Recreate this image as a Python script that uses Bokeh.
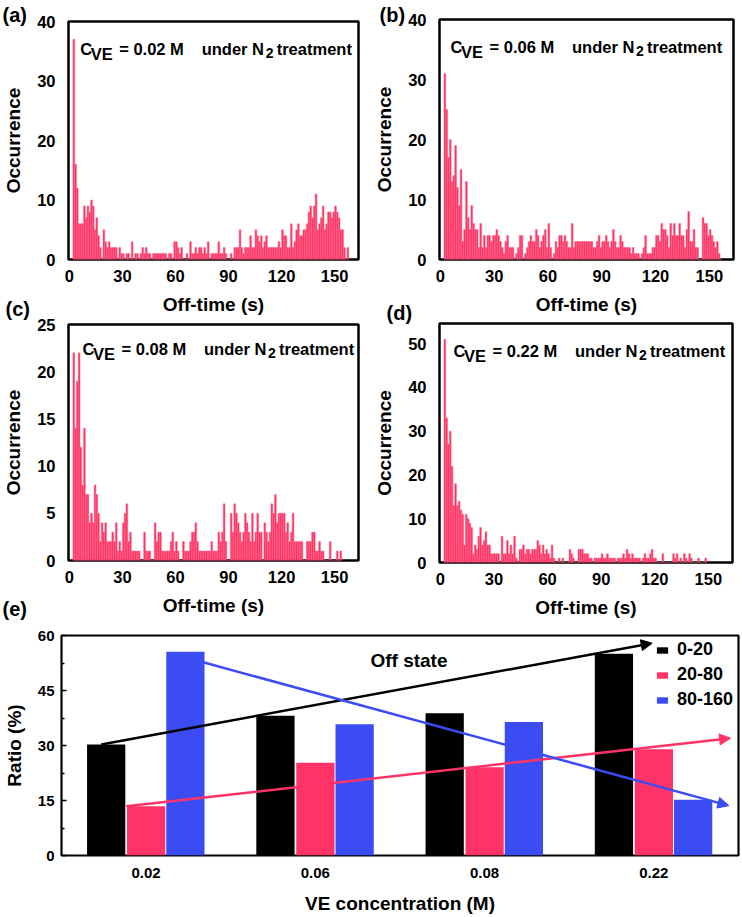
from bokeh.plotting import figure
from bokeh.models import (Range1d, FactorRange, FixedTicker, Label, Arrow, NormalHead,
                          Legend, LegendItem, ColumnDataSource)
from bokeh.layouts import column, row
from bokeh.transform import dodge
from bokeh.embed import file_html
from bokeh.resources import INLINE

# ---------------------------------------------------------------- data
BIN = 1  # histogram bin width (s)

# (a) C_VE = 0.02 M, bins start at 2 s
start_a = 2
counts_a = [37, 16, 12, 6, 6, 6, 9, 7, 9, 8,
            10, 9, 5, 7, 4, 2, 0, 5, 3, 2,
            3, 2, 2, 2, 2, 0, 2, 1, 1, 0,
            1, 1, 0, 3, 0, 1, 1, 0, 1, 2,
            1, 2, 1, 1, 0, 1, 1, 1, 1, 1,
            1, 1, 1, 0, 1, 1, 0, 3, 3, 2,
            1, 2, 0, 0, 1, 0, 3, 1, 1, 2,
            1, 2, 2, 1, 2, 1, 3, 0, 1, 1,
            1, 1, 3, 1, 1, 2, 1, 0, 0, 1,
            0, 2, 2, 2, 5, 2, 1, 2, 2, 2,
            4, 2, 2, 5, 4, 3, 4, 2, 3, 4,
            2, 2, 2, 2,
            2, 2, 3, 2, 5, 4, 4, 2, 2, 6,
            2, 3, 5, 6, 4, 4, 5, 5, 6, 8,
            9, 7, 9, 11, 5, 6, 7, 9, 5, 6,
            8, 8, 7, 8, 9, 8, 7, 5, 5, 2,
            0, 2]

# (b) C_VE = 0.06 M
start_b = 2
counts_b = [31, 25, 17, 20, 13, 14, 19, 12, 9, 15,
            3, 5, 13, 7, 5, 9, 6, 5, 5, 2,
            6, 2, 4, 2, 4, 4, 3, 4, 4, 5,
            4, 3, 2, 1, 3, 4, 2, 2, 2, 0,
            1, 2, 4, 4, 0, 1, 2, 3, 4, 3,
            3, 5, 4, 2, 3, 4, 5, 2, 6, 2,
            0, 1, 3, 2, 4, 4, 3, 4, 3, 2,
            2, 6, 2, 3, 3, 3, 3, 3, 3, 3,
            3, 3, 3, 2, 2, 3, 4, 2, 3, 3,
            4, 3, 2, 3, 5, 3, 2, 2, 4, 3,
            2, 2, 2, 2, 1, 2, 1, 1, 1, 0,
            1, 2, 4, 1, 1, 1, 2, 2, 4, 4,
            3, 6, 5, 5, 4, 2, 6, 4, 6, 4,
            4, 6, 4, 4, 2, 5, 8, 3, 3, 5,
            2, 2, 0, 0, 7, 6, 6, 4, 5, 4,
            3, 2, 3, 1, 0]

# (c) C_VE = 0.08 M
start_c = 2
counts_c = [22, 14, 19, 22, 12, 8, 14, 7, 7, 4,
            5, 4, 8, 7, 5, 2, 4, 3, 4, 2,
            2, 2, 3, 2, 4, 1, 2, 1, 4, 5,
            6, 2, 3, 1, 1, 1, 1, 1, 0, 0,
            3, 1, 1, 1, 0, 0, 4, 2, 3, 3,
            1, 1, 1, 1, 1, 2, 3, 1, 2, 1,
            0, 0, 2, 1, 1, 1, 2, 3, 3, 4,
            2, 1, 1, 1, 1, 1, 1, 1, 2, 1,
            1, 1, 3, 2, 3, 6, 2, 0, 0, 5,
            3, 6, 5, 4, 3, 2, 3, 5, 4, 3,
            2, 5, 2, 3, 5, 3, 3, 0, 4, 3,
            2, 3, 6, 5, 7, 4, 5, 5, 5, 5,
            3, 4, 2, 3, 5, 2, 2, 2, 2, 2,
            0, 0, 2, 2, 2, 3, 3, 1, 1, 2,
            1, 1, 0, 0, 0, 2, 0, 0, 0, 1,
            0, 1]

# (d) C_VE = 0.22 M
start_d = 2
counts_d = [51, 33, 27, 30, 22, 13, 18, 13, 14, 12,
            11, 4, 11, 10, 9, 8, 2, 4, 3, 6,
            8, 4, 5, 7, 4, 4, 2, 2, 2, 2, 2, 0,
            6, 2, 2, 5, 2, 4, 2, 6, 1,
            0, 3, 3, 4, 2, 3, 3, 2, 3, 3,
            3, 5, 4, 2, 4, 2, 3, 2, 1, 4,
            1, 0, 0, 1, 0, 1, 0, 0, 0, 3,
            2, 1, 0, 0, 3, 3, 3, 2, 2, 2,
            1, 1, 0, 1, 1, 1, 1, 2, 1, 1, 2, 1, 1,
            1, 1, 0, 1, 1, 1, 2, 1, 3, 2,
            1, 2, 1, 1, 1, 1, 0, 1, 2, 1,
            1, 2, 3, 1, 1, 0, 0, 0, 2, 0,
            0, 0, 0, 0, 2, 1, 2, 0, 1, 0,
            2, 1, 0, 2, 1, 0, 0, 0, 1, 0,
            0, 0, 1]

hist_x_ticks = [0, 30, 60, 90, 120, 150]
y_ticks_a = [0, 10, 20, 30, 40]
y_ticks_b = [0, 10, 20, 30, 40]
y_ticks_c = [0, 5, 10, 15, 20, 25]
y_ticks_d = [0, 10, 20, 30, 40, 50]
conc_labels = ["0.02", "0.06", "0.08", "0.22"]
panel_letters = ["(a)", "(b)", "(c)", "(d)", "(e)"]

# (e) off-state ratio (%) per off-time range
conc = ["0.02", "0.06", "0.08", "0.22"]
ratio_0_20 = [30.3, 38.1, 38.8, 55.0]
ratio_20_80 = [13.4, 25.3, 24.1, 29.0]
ratio_80_160 = [55.6, 35.8, 36.4, 15.2]
ratio_ticks = [0, 15, 30, 45, 60]
ratio_minor = [7.5, 22.5, 37.5, 52.5]
range_names = ["0-20", "20-80", "80-160"]

# trend arrows (category synthetic x, ratio y)
trend_x0 = [0.235, 0.383, 0.837]
trend_y0 = [30.3, 13.4, 52.7]
trend_x1 = [3.49, 3.953, 3.943]
trend_y1 = [57.9, 32.0, 13.6]

# ---------------------------------------------------------------- style
PAGE_W, PAGE_H = 742, 917
FONT = "Liberation Sans"
HIST_COLOR = "#FF2E60"
HIST_EDGE = "#FF6A8C"
RED = "#FF3366"
BLUE = "#3B4CF2"
SERIES_COLORS = ["black", RED, BLUE]
# panel-letter positions on the page (left x, baseline y, in px from top-left)
letter_pos = [(2, 14.5), (379, 14), (5, 308), (386, 312.5), (2, 608)]


def no_align(p):
    try:
        p.frame_align = False
    except (AttributeError, ValueError):
        pass


def style_axes(p, tick_size, label_size, x_std, x_lab_std, y_std, y_lab_std):
    for ax in (p.xaxis[0], p.yaxis[0]):
        ax.axis_line_color = None
        ax.major_label_text_font = FONT
        ax.major_label_text_font_style = "bold"
        ax.major_label_text_font_size = f"{tick_size}px"
        ax.major_label_text_color = "black"
        ax.axis_label_text_font = FONT
        ax.axis_label_text_font_style = "bold"
        ax.axis_label_text_font_size = f"{label_size}px"
        ax.axis_label_text_color = "black"
    p.xaxis[0].major_label_standoff = x_std
    p.xaxis[0].axis_label_standoff = x_lab_std
    p.yaxis[0].major_label_standoff = y_std
    p.yaxis[0].axis_label_standoff = y_lab_std
    p.xgrid.visible = False
    p.ygrid.visible = False
    p.outline_line_color = "black"
    p.outline_line_width = 2.5
    p.background_fill_color = "white"
    p.border_fill_alpha = 0
    no_align(p)


def add_label(p, text, x, y, size):
    p.add_layout(Label(x=x, y=y, x_units="screen", y_units="screen", text=text,
                       text_font=FONT, text_font_style="bold", text_font_size=f"{size}px",
                       text_color="black", text_align="left", text_baseline="alphabetic"))


def hist_panel(counts, start, y_max, y_ticks, conc_txt, w, h, left, right, top, bottom,
               text_dx, text_dy):
    p = figure(width=w, height=h, x_range=Range1d(-0.5, 163.5), y_range=Range1d(0, y_max),
               output_backend="svg", toolbar_location=None,
               min_border_left=left, min_border_right=right,
               min_border_top=top, min_border_bottom=bottom)
    bins = [start + i * BIN for i in range(len(counts))]
    src = ColumnDataSource(dict(x=[b + BIN / 2 for b in bins], top=counts))
    p.vbar(x="x", top="top", bottom=0, width=BIN, source=src,
           fill_color=HIST_COLOR, line_color=HIST_EDGE, line_width=0.5)
    p.xaxis.ticker = FixedTicker(ticks=hist_x_ticks)
    p.yaxis.ticker = FixedTicker(ticks=y_ticks)
    for ax in (p.xaxis[0], p.yaxis[0]):
        ax.major_tick_line_color = None
        ax.minor_tick_line_color = None
    p.xaxis.axis_label = "Off-time (s)"
    p.yaxis.axis_label = "Occurrence"
    style_axes(p, 16.5, 19, 4, 9, 7, 10)
    fh = h - top - bottom
    # in-panel caption, built from pieces (subscripts lowered)
    pieces = [("C", 0, 0, 16.5), ("VE", 10.6, 5, 16.5), (f"= {conc_txt} M", 39.0, 0, 16.5),
              ("under N", 121.5, 0, 16.5), ("2", 185.5, 4, 14), ("treatment", 196.5, 0, 16.5)]
    for txt, dx, dy, size in pieces:
        add_label(p, txt, text_dx + dx, fh - (text_dy + dy), size)
    return p


# ---------------------------------------------------------------- panels
pa = hist_panel(counts_a, start_a, 40, y_ticks_a, conc_labels[0],
                371, 317, 61, 13, 21, 58, 11.7, 27.3)
pb = hist_panel(counts_b, start_b, 40, y_ticks_b, conc_labels[1],
                371, 317, 63, 9, 19, 58, 11, 27.7)
pc = hist_panel(counts_c, start_c, 25, y_ticks_c, conc_labels[2],
                371, 323, 62, 13, 29, 58, 14, 24.3)
pd = hist_panel(counts_d, start_d, 54.6, y_ticks_d, conc_labels[3],
                371, 322, 64, 10, 25, 58, 14, 27)

# panels (c), (d) and (e) start above the bottom edge of the panels over them
pc.margin = (-22, 0, 0, 0)
pd.margin = (-19, 0, 0, 0)

# ---------------------------------------------------------------- (e) bars
pe = figure(width=PAGE_W, height=319,
            x_range=FactorRange(factors=conc), y_range=Range1d(0, 60),
            output_backend="svg", toolbar_location=None,
            min_border_left=61, min_border_right=4,
            min_border_top=37, min_border_bottom=62)
src_e = ColumnDataSource(dict(conc=conc, r1=ratio_0_20, r2=ratio_20_80, r3=ratio_80_160))
offsets = [-0.236, 0.0, 0.232]
renderers = []
for col, off, colr in zip(["r1", "r2", "r3"], offsets, SERIES_COLORS):
    r = pe.vbar(x=dodge("conc", off, range=pe.x_range), top=col, bottom=0, width=0.226,
                source=src_e, fill_color=colr, line_color=None)
    renderers.append(r)

for x0, y0, x1, y1, colr in zip(trend_x0, trend_y0, trend_x1, trend_y1, SERIES_COLORS):
    pe.add_layout(Arrow(end=NormalHead(size=11, fill_color=colr, line_color=colr, line_width=1),
                        x_start=x0, y_start=y0, x_end=x1, y_end=y1,
                        line_color=colr, line_width=2.5))

pe.add_layout(Label(x=2.053, y=53.2, text="Off state", text_font=FONT,
                    text_font_style="bold", text_font_size="19px", text_color="black",
                    text_align="center", text_baseline="middle"))

legend = Legend(items=[LegendItem(label=n, renderers=[r]) for n, r in zip(range_names, renderers)],
                location=(594, 145), orientation="vertical",
                glyph_width=14, glyph_height=8,
                label_standoff=8, label_height=20, spacing=4,
                padding=0, margin=0, border_line_color=None, background_fill_alpha=0,
                label_text_font=FONT, label_text_font_style="bold",
                label_text_font_size="18px", label_text_color="black")
pe.add_layout(legend)

pe.yaxis.ticker = FixedTicker(ticks=ratio_ticks, minor_ticks=ratio_minor)
pe.yaxis.major_tick_in = 5
pe.yaxis.major_tick_out = 0
pe.yaxis.minor_tick_in = 3
pe.yaxis.minor_tick_out = 0
pe.yaxis.major_tick_line_width = 1.5
pe.yaxis.minor_tick_line_width = 1.5
pe.xaxis.major_tick_line_color = None
pe.xaxis.axis_label = "VE concentration (M)"
pe.yaxis.axis_label = "Ratio (%)"
style_axes(pe, 15, 19, 6, 12, 7, 10)
pe.outline_line_width = 2.2
pe.margin = (-22, 0, 0, 0)

# ---------------------------------------------------------------- panel letters
# a transparent page-sized overlay whose frame is the whole page
overlay = figure(width=PAGE_W, height=PAGE_H, x_range=Range1d(0, PAGE_W),
                 y_range=Range1d(0, PAGE_H), output_backend="svg", toolbar_location=None,
                 x_axis_location=None, y_axis_location=None,
                 min_border=0, min_border_left=0, min_border_right=0,
                 min_border_top=0, min_border_bottom=0)
overlay.outline_line_color = None
overlay.background_fill_alpha = 0
overlay.border_fill_alpha = 0
overlay.grid.visible = False
no_align(overlay)
for letter, (lx, ly) in zip(panel_letters, letter_pos):
    add_label(overlay, letter, lx, PAGE_H - ly, 20)
overlay.margin = (-PAGE_H, 0, 0, 0)

layout = column(row(column(pa, pc), column(pb, pd)), pe, overlay)

open("out.html", "w").write(file_html(layout, INLINE))
